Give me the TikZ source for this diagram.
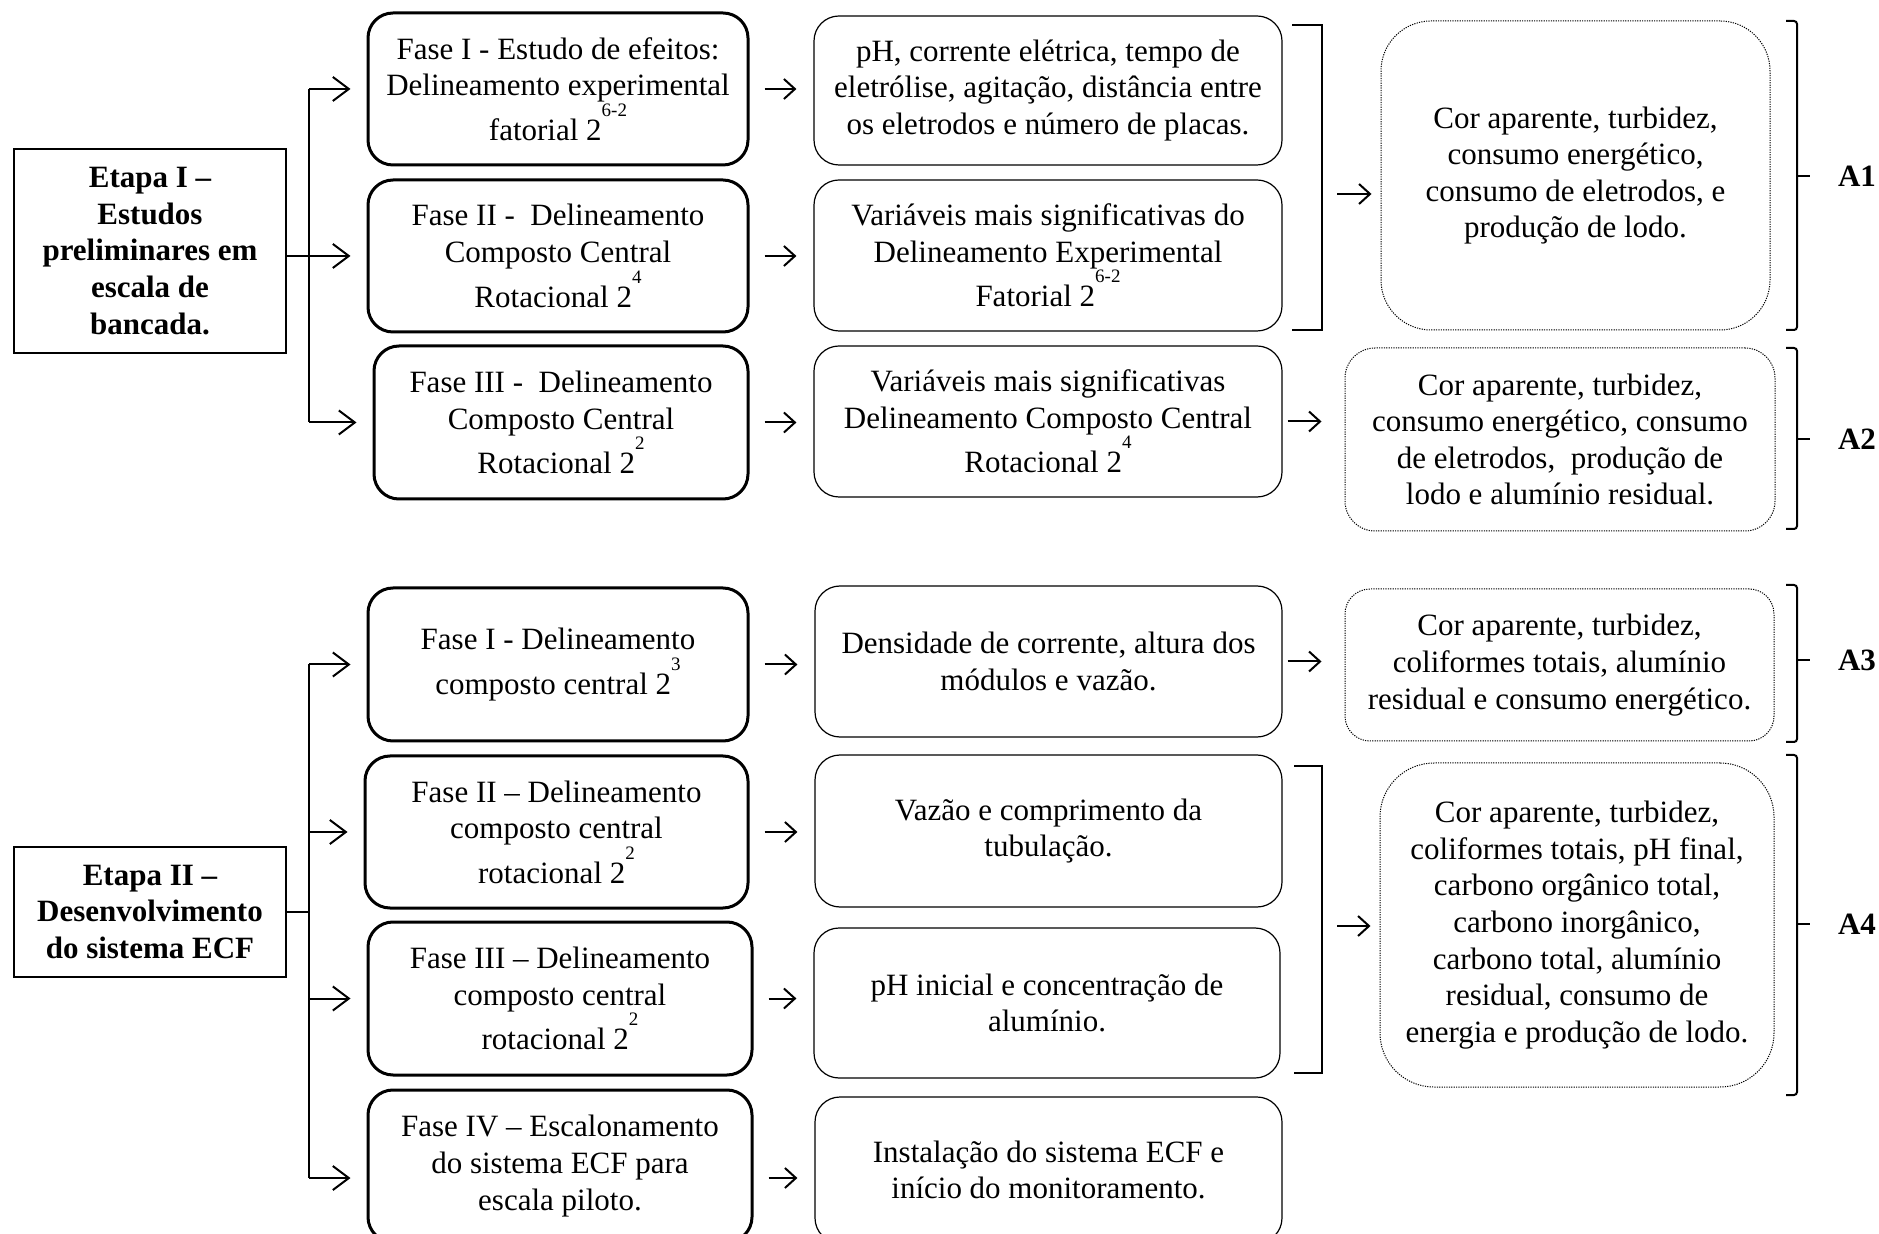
\documentclass[tikz,border=0pt]{standalone}
\usepackage{fontspec}
\setmainfont{Liberation Serif}
\usetikzlibrary{arrows.meta}
% raised exponent, kept out of the line height
\newcommand\expo[1]{\raisebox{12pt}[0pt][0pt]{\fontsize{9.5}{9.5}\selectfont #1}}

\begin{document}
\begin{tikzpicture}[x=0.5pt,y=-0.5pt,
  every node/.style={font=\fontsize{15.5}{18.3}\selectfont, align=center, inner sep=0pt},
  etapa/.style={draw, line width=1pt, font=\fontsize{15.5}{18.3}\selectfont\bfseries},
  fase/.style={draw, line width=1.5pt, rounded corners=12.5pt},
  info/.style={draw, line width=0.6pt, rounded corners=12.5pt},
  result/.style={draw, line width=0.5pt, dash pattern=on 0.6pt off 0.6pt},
  conn/.style={line width=1pt},
  barb/.style={line width=1pt, -{Straight Barb[length=8pt,width=12pt]}},
  tip/.style={line width=1pt, -{Straight Barb[length=5.5pt,width=10pt]}},
  brk/.style={line width=1pt},
  lab/.style={font=\fontsize{15.5}{18}\selectfont\bfseries}]

\useasboundingbox (0,0) rectangle (1879,1234);

% ---------------- Etapa I ----------------
\node[etapa, minimum width=136pt, minimum height=102pt] (e1) at (150,251)
  {Etapa I --\\Estudos\\preliminares em\\escala de\\bancada.};

\node[fase, minimum width=190pt, minimum height=76pt] (p1) at (558,89)
  {Fase I - Estudo de efeitos:\\Delineamento experimental\\[4pt]fatorial 2\expo{6-2}};
\node[fase, minimum width=190pt, minimum height=76pt] (p2) at (558,256)
  {Fase II -\ \ Delineamento\\Composto Central\\[4pt]Rotacional 2\expo{4}};
\node[fase, minimum width=187pt, minimum height=76.5pt] (p3) at (561,422.5)
  {Fase III -\ \ Delineamento\\Composto Central\\[4pt]Rotacional 2\expo{2}};

\node[info, minimum width=234pt, minimum height=74.5pt] (m1) at (1048,90.5)
  {pH, corrente elétrica, tempo de\\eletrólise, agitação, distância entre\\os eletrodos e número de placas.};
\node[info, minimum width=234pt, minimum height=75.5pt] (m2) at (1048,255.5)
  {Variáveis mais significativas do\\Delineamento Experimental\\[4pt]Fatorial 2\expo{6-2}};
\node[info, minimum width=234pt, minimum height=75.5pt] (m3) at (1048,421.5)
  {Variáveis mais significativas\\Delineamento Composto Central\\[4pt]Rotacional 2\expo{4}};

\node[result, rounded corners=25pt, minimum width=194.5pt, minimum height=154.5pt] (r1) at (1575.5,175.5)
  {Cor aparente, turbidez,\\consumo energético,\\consumo de eletrodos, e\\produção de lodo.};
\node[result, rounded corners=15pt, minimum width=215pt, minimum height=91.5pt] (r2) at (1560,439.5)
  {Cor aparente, turbidez,\\consumo energético, consumo\\de eletrodos,\ \ produção de\\lodo e alumínio residual.};

% branch lines
\coordinate (j1) at (309,0);
\draw[conn] (p1.west -| j1) -- (p3.west -| j1);
\draw[conn] (e1.east |- p2.west) -- (p2.west -| j1);
\foreach \f in {p1,p2,p3}
  \draw[barb, shorten >=8pt] (\f.west -| j1) -- (\f.west);

% phase -> variables
\draw[tip, shorten <=7.5pt, shorten >=8.5pt] (p1.east) -- (p1.east -| m1.west);
\draw[tip, shorten <=7.5pt, shorten >=8.5pt] (p2.east) -- (p2.east -| m2.west);
\draw[tip, shorten <=7.5pt, shorten >=8.5pt] (p3.east) -- (p3.east -| m3.west);

% grouping bracket of the first two rows
\coordinate (b1t) at (1292,25);
\coordinate (b1b) at (1292,330);
\coordinate (b1m) at (1322,194);
\draw[brk] (b1t) -- (b1t -| b1m) -- (b1b -| b1m) -- (b1b);
\draw[tip, shorten <=7.5pt, shorten >=4.5pt] (b1m) -- (b1m -| r1.west);
\draw[tip, shorten <=2.5pt, shorten >=11.5pt] (m3.east) -- (m3.east -| r2.west);

% ---------------- Etapa II ----------------
\node[etapa, minimum width=136pt, minimum height=65pt] (e2) at (150,912)
  {Etapa II --\\Desenvolvimento\\do sistema ECF};

\node[fase, minimum width=190pt, minimum height=76.5pt] (q1) at (558,664.5)
  {Fase I - Delineamento\\[4pt]composto central 2\expo{3}};
\node[fase, minimum width=191.5pt, minimum height=76pt] (q2) at (556.5,832)
  {Fase II -- Delineamento\\composto central\\[4pt]rotacional 2\expo{2}};
\node[fase, minimum width=192pt, minimum height=76.5pt] (q3) at (560,998.5)
  {Fase III -- Delineamento\\composto central\\[4pt]rotacional 2\expo{2}};
\node[fase, minimum width=192pt, minimum height=76pt] (q4) at (560,1166)
  {Fase IV -- Escalonamento\\do sistema ECF para\\escala piloto.};

\node[info, minimum width=233.5pt, minimum height=75.5pt] (n1) at (1048.5,661.5)
  {Densidade de corrente, altura dos\\módulos e vazão.};
\node[info, minimum width=233.5pt, minimum height=76pt] (n2) at (1048.5,831)
  {Vazão e comprimento da\\tubulação.};
\node[info, minimum width=233pt, minimum height=75pt] (n3) at (1047,1003)
  {pH inicial e concentração de\\alumínio.};
\node[info, minimum width=233.5pt, minimum height=73pt] (n4) at (1048.5,1170)
  {Instalação do sistema ECF e\\início do monitoramento.};

\node[result, rounded corners=12.5pt, minimum width=214.5pt, minimum height=76pt] (r3) at (1559.5,665)
  {Cor aparente, turbidez,\\coliformes totais, alumínio\\residual e consumo energético.};
\node[result, rounded corners=27pt, minimum width=197pt, minimum height=162pt] (r4) at (1577,925)
  {Cor aparente, turbidez,\\coliformes totais, pH final,\\carbono orgânico total,\\carbono inorgânico,\\carbono total, alumínio\\residual, consumo de\\energia e produção de lodo.};

% branch lines
\draw[conn] (q1.west -| j1) -- ([yshift=-6pt]q4.west -| j1);
\draw[conn] (e2.east) -- (e2.east -| j1);
\foreach \f in {q1,q2,q3}
  \draw[barb, shorten >=8pt] (\f.west -| j1) -- (\f.west);
\draw[barb, shorten >=8pt] ([yshift=-6pt]q4.west -| j1) -- ([yshift=-6pt]q4.west);

% phase -> variables
\draw[tip, shorten <=7.5pt, shorten >=8.5pt] (q1.east) -- (q1.east -| n1.west);
\draw[tip, shorten <=7.5pt, shorten >=8.5pt] (q2.east) -- (q2.east -| n2.west);
\draw[tip, shorten <=7.5pt, shorten >=8.5pt] (q3.east) -- (q3.east -| n3.west);
\draw[tip, shorten <=7.5pt, shorten >=8.5pt] ([yshift=-6pt]q4.east) -- ([yshift=-6pt]q4.east -| n4.west);

\draw[tip, shorten <=2.5pt, shorten >=11.5pt] (n1.east) -- (n1.east -| r3.west);

% grouping bracket of rows II and III
\coordinate (b2t) at (1294,766);
\coordinate (b2b) at (1294,1073);
\coordinate (b2m) at (1322,926);
\draw[brk] (b2t) -- (b2t -| b2m) -- (b2b -| b2m) -- (b2b);
\draw[tip, shorten <=7.5pt, shorten >=4.5pt] (b2m) -- (b2m -| r4.west);

% ---------------- analysis brackets ----------------
\foreach \t/\b/\m/\n in {21/330/176/A1, 348/529/439/A2, 585/742/660/A3, 755/1095/924/A4}{
  \draw[brk, rounded corners=1.5pt] (1786,\t) -- (1797,\t) -- (1797,\b) -- (1786,\b);
  \draw[brk] (1797,\m) -- (1810,\m);
  \node[lab] (lab\n) at (1857,\m) {\n};
}
\end{tikzpicture}
\end{document}
